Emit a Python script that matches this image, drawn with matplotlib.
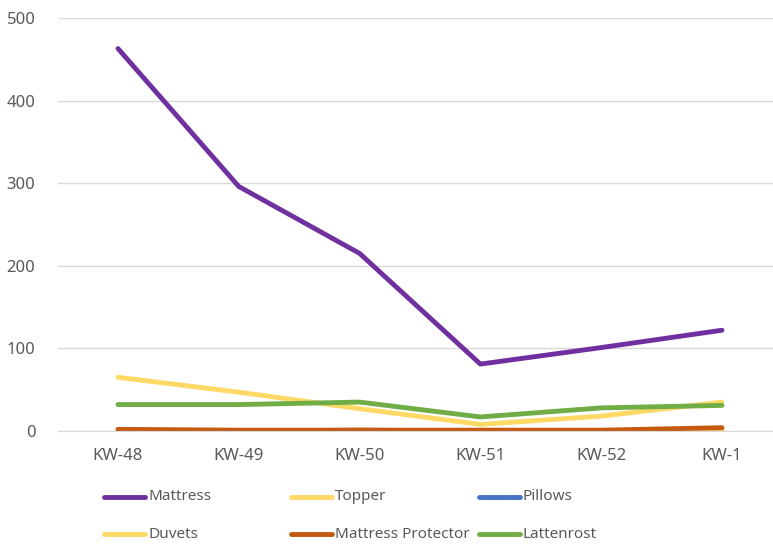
import matplotlib.pyplot as plt
from matplotlib.lines import Line2D

plt.rcParams['font.family'] = ['Noto Sans', 'DejaVu Sans']

weeks = ['KW-48', 'KW-49', 'KW-50', 'KW-51', 'KW-52', 'KW-1']
mattress = [463, 296, 215, 81, 101, 122]
topper = [65, 47, 27, 8, 18, 35]
pillows = [0, 0, 1, 0, 0, 0]
duvets = [1, 0, 1, 0, 0, 1]
mattress_protector = [2, 1, 1, 1, 1, 4]
lattenrost = [32, 32, 35, 17, 28, 31]

series_names = ['Mattress', 'Topper', 'Pillows', 'Duvets', 'Mattress Protector', 'Lattenrost']
series_values = [mattress, topper, pillows, duvets, mattress_protector, lattenrost]
colors = ['#7030A0', '#FFD966', '#4472C4', '#FFD966', '#C55A11', '#70AD47']

W, H = 773, 547
fig = plt.figure(figsize=(W / 100, H / 100), dpi=100)
ax = fig.add_axes([57.6 / W, 1 - 431 / H, 724.8 / W, 413 / H])

x = list(range(len(weeks)))
for name, vals, c in zip(series_names, series_values, colors):
    ax.plot(x, vals, color=c, lw=3.5, solid_capstyle='round', solid_joinstyle='round', label=name)

ax.set_xlim(-0.5, len(weeks) - 0.5)
ax.set_ylim(0, 500)
ax.set_yticks([0, 100, 200, 300, 400, 500])
ax.set_xticks(x)
ax.set_xticklabels(weeks)
ax.tick_params(length=0, labelsize=12, colors='#595959')
ax.tick_params(axis='x', pad=12)
ax.tick_params(axis='y', pad=16)
ax.grid(axis='y', color='#D9D9D9', lw=1)
ax.set_axisbelow(True)
for s in ['top', 'right', 'left']:
    ax.spines[s].set_visible(False)
ax.spines['bottom'].set_color('#D9D9D9')

# legend laid out like the Excel one: 3 equal columns, 2 rows
col_x = [104, 291, 479]
row_y = [497, 534]
for i, (name, c) in enumerate(zip(series_names, colors)):
    r, k = divmod(i, 3)
    x0 = col_x[k]
    y0 = 1 - row_y[r] / H
    fig.add_artist(Line2D([x0 / W, (x0 + 41) / W], [y0, y0], color=c, lw=3.5,
                          solid_capstyle='round', transform=fig.transFigure))
    fig.text((x0 + 44) / W, y0, name, fontsize=11, color='#595959', va='center', ha='left')

fig.savefig('out.png', dpi=100)
plt.close()
